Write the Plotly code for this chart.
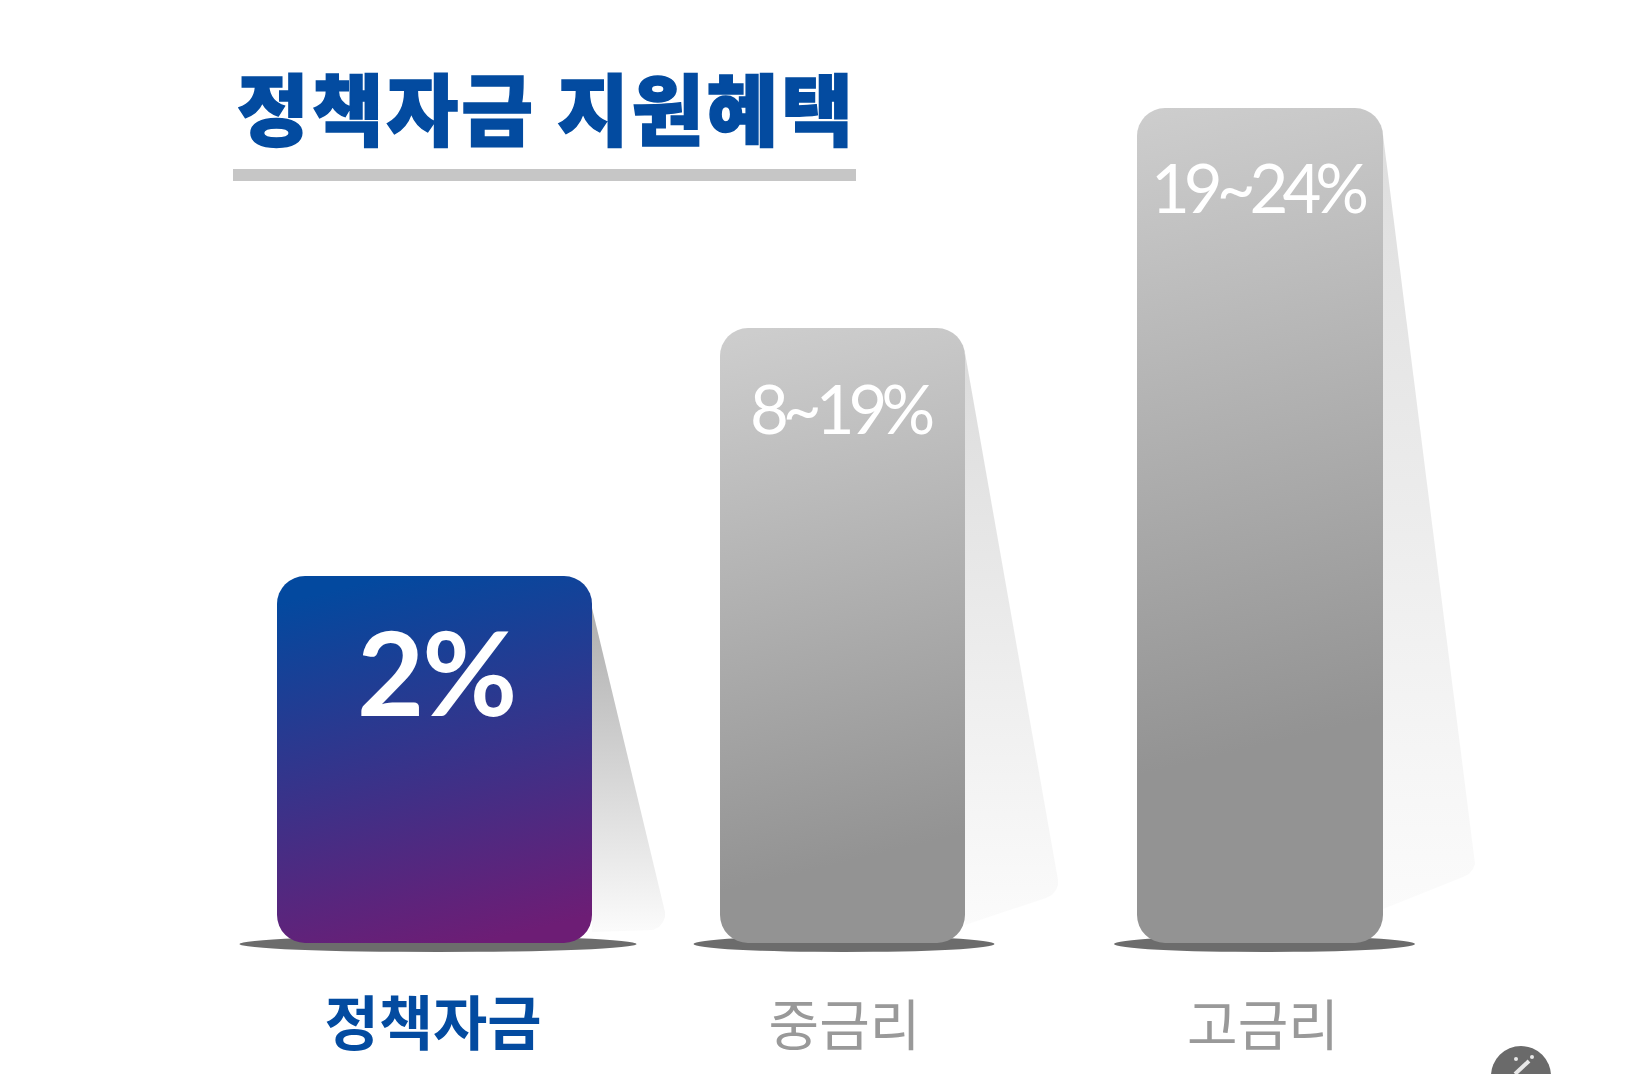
import json
import plotly.graph_objects as go

# ---- data ----
categories = ["정책자금", "중금리", "고금리"]
bar_labels = ["2%", "8~19%", "19~24%"]
bar_heights = [367, 615, 835]
title_text = "정책자금 지원혜택"

# ---- layout (1 axis unit = 1 pixel) ----
W, H = 1629, 1074
BASE = 943
bar_centers = [434.5, 842.5, 1260]
bar_widths = [315, 245, 246]
tick_centers = [433, 844.5, 1263]
shadow_centers = [438, 844, 1264.5]
label_offsets = [95, 80, 79]
label_shift = [1, -3, -3]
wedge_top = [32, 25, 27]
wedge_reach = [73, 93, 92]
wedge_end = [28, 60, 81]
wedge_bottom = [11, 18, 34]
shadow_half = [198.5, 150.5, 150.5]
wedge_colors = [["#aeaeae", "#fbfbfb"], ["#dcdcdc", "#fbfbfb"], ["#dedede", "#fbfbfb"]]
gradients = [
    [["0", "#03499f"], ["1", "#6d1d75"]],
    [["0", "#cdcdcd"], ["0.85", "#939393"], ["1", "#939393"]],
    [["0", "#cdcdcd"], ["0.75", "#939393"], ["1", "#939393"]],
]
BLUE = "#034ba0"
GREY = "#999999"


def py(px):
    return (BASE - px) / BASE


fig = go.Figure()

fig.add_trace(go.Bar(x=bar_centers, y=bar_heights, base=[0, 0, 0], width=bar_widths,
                     marker=dict(color="#999999", cornerradius=28, line_width=0), hoverinfo="skip"))

for i, (c, w, h) in enumerate(zip(bar_centers, bar_widths, bar_heights)):
    right = c + w / 2
    top = h - wedge_top[i]
    reach = right + wedge_reach[i]
    xs = [right, reach - 1, reach, reach, reach - 2, reach - 6, reach - 12, right, right]
    end = wedge_end[i]
    ys = [top, end + 10, end + 3, end - 2, end - 7, end - 12, end - 15, wedge_bottom[i], top]
    fig.add_trace(go.Scatter(
        x=xs, y=ys, mode="lines", line=dict(width=0), fill="toself", hoverinfo="skip",
        fillgradient=dict(type="vertical",
                          colorscale=[[0, wedge_colors[i][1]], [1, wedge_colors[i][0]]]),
    ))

shapes = []
for c, s in zip(shadow_centers, shadow_half):
    shapes.append(dict(type="circle", xref="paper", yref="paper", layer="below",
                       x0=c / W - s / W, x1=c / W + s / W,
                       y0=py(BASE + 9), y1=py(BASE - 7),
                       fillcolor="#6c6c6c", line_width=0))
# title underline
shapes.append(dict(type="rect", xref="paper", yref="paper", layer="below",
                   x0=233 / W, x1=856 / W, y0=py(181), y1=py(169),
                   fillcolor="#c6c6c6", line_width=0))
# small button in the corner
shapes.append(dict(type="circle", xref="paper", yref="paper", layer="above",
                   x0=1491 / W, x1=1551 / W, y0=py(1106), y1=py(1046),
                   fillcolor="#6a6a6a", line_width=0))
shapes.append(dict(type="line", xref="paper", yref="paper", layer="above",
                   x0=1515 / W, x1=1529 / W, y0=py(1074), y1=py(1061),
                   line=dict(color="#e8e8e8", width=4)))
for sx, sy in [(1516, 1059), (1532, 1057)]:
    shapes.append(dict(type="circle", xref="paper", yref="paper", layer="above",
                       x0=(sx - 2) / W, x1=(sx + 2) / W, y0=py(sy + 2), y1=py(sy - 2),
                       fillcolor="#e8e8e8", line_width=0))

annotations = []
for i, (lab, c, h) in enumerate(zip(bar_labels, bar_centers, bar_heights)):
    first = i == 0
    annotations.append(dict(
        x=c + label_shift[i], y=h - label_offsets[i], xref="x", yref="y", text=lab, showarrow=False,
        xanchor="center", yanchor="middle",
        font=dict(family="Lato", size=116 if first else 67, color="white", weight=700 if first else 400),
    ))

ticktext = [f'<span style="color:{BLUE};font-weight:700;font-size:59px">{categories[0]}</span>'] + categories[1:]

fig.update_layout(
    width=W, height=H, autosize=False,
    margin=dict(l=0, r=0, t=0, b=H - BASE),
    paper_bgcolor="white", plot_bgcolor="rgba(0,0,0,0)",
    showlegend=False, barmode="overlay",
    title=dict(text=title_text, x=237 / W, xanchor="left", xref="paper",
               y=1 - 113 / H, yanchor="middle",
               font=dict(family="Noto Sans CJK KR", size=78, color=BLUE, weight=900)),
    xaxis=dict(range=[0, W], showgrid=False, zeroline=False, showline=False,
               tickvals=tick_centers, ticktext=ticktext, tickangle=0, ticks="",
               ticklabelstandoff=46,
               tickfont=dict(family="Noto Sans CJK KR", size=55, color=GREY)),
    yaxis=dict(range=[0, BASE], showgrid=False, zeroline=False, showline=False, showticklabels=False),
    shapes=shapes, annotations=annotations,
)

grad_spec = [
    dict(x1=c - 0.12 * h, y1=BASE - h, x2=c + 0.12 * h, y2=BASE, stops=g)
    for c, h, g in zip(bar_centers, bar_heights, gradients)
]
post = """
document.body.style.margin='0';document.body.style.overflow='hidden';
var gd=document.getElementById('{plot_id}');
var spec=%s;
function paint(){
  var svg=gd.querySelector('.main-svg');
  var defs=svg.querySelector('defs');
  spec.forEach(function(s,i){
    if(document.getElementById('barG'+i))return;
    var g=document.createElementNS('http://www.w3.org/2000/svg','linearGradient');
    g.setAttribute('id','barG'+i);g.setAttribute('gradientUnits','userSpaceOnUse');
    g.setAttribute('x1',s.x1);g.setAttribute('y1',s.y1);g.setAttribute('x2',s.x2);g.setAttribute('y2',s.y2);
    s.stops.forEach(function(t){var e=document.createElementNS('http://www.w3.org/2000/svg','stop');
      e.setAttribute('offset',t[0]);e.setAttribute('stop-color',t[1]);g.appendChild(e);});
    defs.appendChild(g);
  });
  gd.querySelectorAll('.barlayer .point path').forEach(function(p,i){
    p.style.setProperty('fill','url(#barG'+(i%%3)+')');
  });
  gd.querySelectorAll('.annotation-text').forEach(function(t,i){
    t.style.letterSpacing=i==0?'-2px':'-6px';
  });
  var tt=gd.querySelector('.gtitle');
  if(tt){tt.style.letterSpacing='3px';tt.style.stroke='%s';tt.style.strokeWidth='1.5px';}
}
paint();gd.on('plotly_afterplot',paint);setTimeout(paint,200);
""" % (json.dumps(grad_spec), BLUE)

fig.write_html("out.html", post_script=post, config=dict(displayModeBar=False, staticPlot=True))
